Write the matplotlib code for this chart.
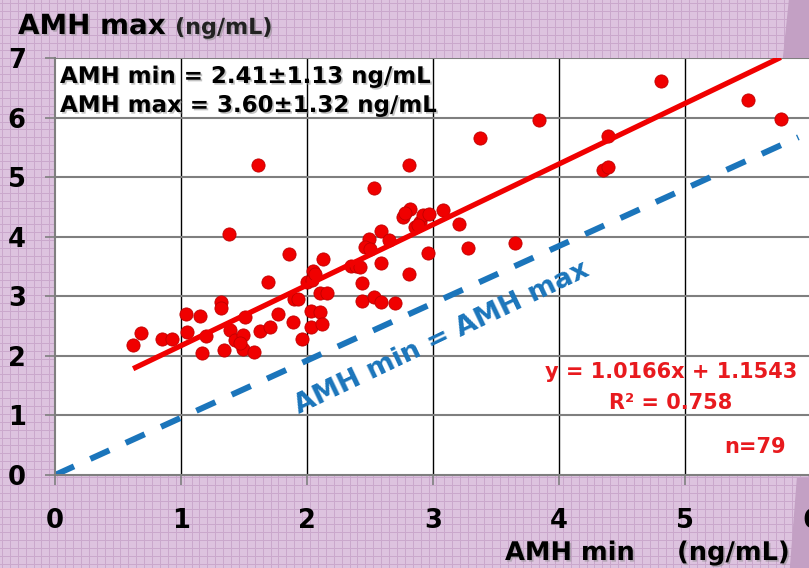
import numpy as np
import matplotlib.pyplot as plt
import matplotlib.patheffects as pe
from matplotlib.patches import Polygon

# AMH values (ng/mL)
amh_min = [0.62, 0.68, 0.85, 0.93, 1.04, 1.05, 1.15, 1.20, 1.17, 1.32,
           1.32, 1.34, 1.39, 1.43, 1.49, 1.51, 1.49, 1.58, 1.63, 1.71,
           1.77, 1.69, 1.89, 1.90, 1.93, 1.96, 2.03, 2.10, 2.03, 2.12,
           2.10, 2.16, 2.00, 2.04, 2.05, 2.06, 2.13, 1.38, 1.86, 1.61,
           2.81, 2.53, 2.76, 2.82, 2.78, 2.86, 2.90, 2.92, 2.97, 3.08,
           3.21, 2.96, 2.59, 2.49, 2.65, 2.46, 2.50, 2.59, 2.35, 2.39,
           2.44, 2.81, 2.44, 2.53, 2.59, 2.70, 3.28, 3.65, 3.37, 3.84,
           4.39, 4.35, 4.39, 4.81, 5.50, 5.76, 2.42, 2.88, 1.47]
amh_max = [2.18, 2.39, 2.29, 2.29, 2.71, 2.40, 2.67, 2.33, 2.05, 2.91,
           2.81, 2.09, 2.44, 2.27, 2.35, 2.66, 2.11, 2.07, 2.42, 2.49,
           2.71, 3.24, 2.56, 2.96, 2.95, 2.28, 2.76, 2.73, 2.49, 2.53,
           3.06, 3.06, 3.24, 3.27, 3.42, 3.37, 3.62, 4.05, 3.71, 5.20,
           5.20, 4.81, 4.33, 4.47, 4.39, 4.17, 4.25, 4.36, 4.38, 4.45,
           4.21, 3.73, 4.10, 3.97, 3.94, 3.83, 3.80, 3.56, 3.51, 3.51,
           3.22, 3.37, 2.92, 2.98, 2.91, 2.88, 3.81, 3.89, 5.66, 5.96,
           5.69, 5.12, 5.17, 6.62, 6.30, 5.97, 3.49, 4.20, 2.22]

slope, intercept = 1.0166, 1.1543
diag_x = [0, 5.9]
diag_y = [0, 5.67]

W, H = 809, 568
fig = plt.figure(figsize=(W / 100, H / 100), dpi=100)
fig.patch.set_facecolor('#ddc3df')

# graph paper background
bg = fig.add_axes([0, 0, 1, 1], zorder=-5)
bg.set_xlim(0, W)
bg.set_ylim(H, 0)
bg.axis('off')
for v in np.arange(2, W, 7.9):
    bg.axvline(v, color='#caa8cc', lw=0.7)
for v in np.arange(3, H, 7.9):
    bg.axhline(v, color='#caa8cc', lw=0.7)
bg.add_patch(Polygon([(789, 0), (809, 0), (809, 58), (783, 58)], color='#c3a0c4', zorder=3))
bg.add_patch(Polygon([(797, 478), (809, 478), (809, 568), (790, 568)], color='#c3a0c4', zorder=3))

ax = fig.add_axes([55 / W, 93 / H, 756 / W, 417 / H])
ax.set_facecolor('white')
ax.set_xlim(0, 6)
ax.set_ylim(0, 7)
ax.set_xticks(range(0, 7))
ax.set_yticks(range(0, 8))
for v in range(1, 6):
    ax.axvline(v, color='black', lw=1.0, zorder=1)
for v in range(1, 8):
    ax.axhline(v, color='#7f7f7f', lw=1.5, zorder=1)
for s in ['top', 'right']:
    ax.spines[s].set_visible(False)
for s in ['left', 'bottom']:
    ax.spines[s].set_color('#7f7f7f')
    ax.spines[s].set_linewidth(1.5)
ax.tick_params(direction='out', length=7, width=1.2, color='#7f7f7f',
               labelsize=18.5, pad=14)
ax.tick_params(axis='x', pad=17)
for lab in ax.get_xticklabels() + ax.get_yticklabels():
    lab.set_fontweight('bold')

ax.plot(diag_x, diag_y, color='#1b75bb', lw=4.3, dashes=(3.5, 3.0), zorder=2)
ax.scatter(amh_min, amh_max, s=90, color='#f00000', edgecolor='#c00000',
           linewidth=0.6, zorder=3)
fx = np.array([min(amh_min), max(amh_min)])
ax.plot(fx, slope * fx + intercept, color='#f00000', lw=3.8, zorder=4,
        solid_capstyle='butt')

shadow = [pe.SimplePatchShadow(offset=(1.2, -1.2), shadow_rgbFace='#888888', alpha=0.5), pe.Normal()]


def ftext(px, py, s, **kw):
    kw.setdefault('fontweight', 'bold')
    return fig.text(px / W, 1 - py / H, s, **kw)


ftext(18, 34, 'AMH max', fontsize=20, color='black', va='baseline', path_effects=shadow)
ftext(175, 34, '(ng/mL)', fontsize=16, color='#222222', va='baseline', path_effects=shadow)
ftext(60, 83, 'AMH min = 2.41\u00b11.13 ng/mL', fontsize=16.5, va='baseline', path_effects=shadow)
ftext(60, 112, 'AMH max = 3.60\u00b11.32 ng/mL', fontsize=16.5, va='baseline', path_effects=shadow)
ftext(505, 560, 'AMH min', fontsize=18.5, va='baseline', path_effects=shadow)
ftext(677, 560, '(ng/mL)', fontsize=18.5, va='baseline', path_effects=shadow)

red = '#e81a1e'
ftext(671, 378, 'y = 1.0166x + 1.1543', fontsize=15, color=red, ha='center', va='baseline')
ftext(671, 409, 'R\u00b2 = 0.758', fontsize=15, color=red, ha='center', va='baseline')
ftext(755, 453, 'n=79', fontsize=15, color=red, ha='center', va='baseline')

ftext(442, 338, 'AMH min = AMH max', fontsize=19.5, color='#1b75bb', ha='center',
      va='center', rotation=25.5, rotation_mode='anchor')

fig.savefig('out.png', dpi=100, facecolor=fig.get_facecolor())
